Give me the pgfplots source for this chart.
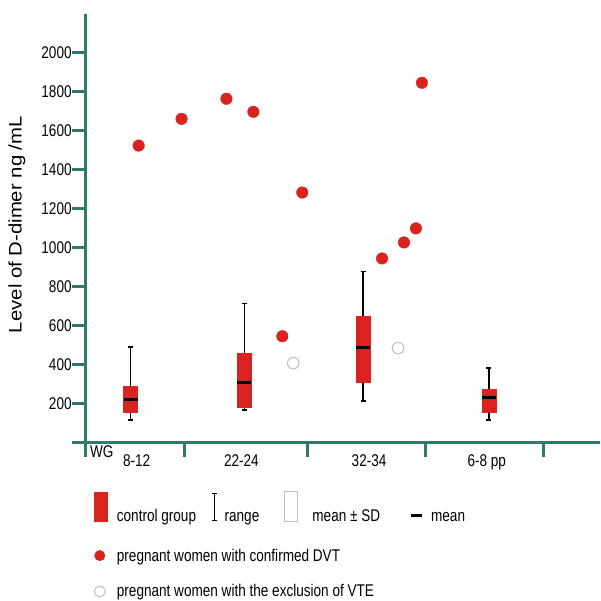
\documentclass[border=0pt]{standalone}
\usepackage{fontspec}
\setmainfont{Liberation Sans}[FakeStretch=0.8]
\newfontfamily\ylabfont{Liberation Sans}[FakeStretch=1.12]
\usepackage{pgfplots}
\pgfplotsset{compat=1.18}
\usepgfplotslibrary{statistics}
\definecolor{axisteal}{RGB}{47,122,108}
\definecolor{boxred}{RGB}{218,35,30}
\definecolor{opengray}{RGB}{190,190,190}

\begin{document}
\begin{tikzpicture}
% fixed page: pixel frame of the reference, origin of the axis at (86,444)
\begin{scope}[x=1pt,y=-1pt,shift={(-86pt,444pt)}]
  \useasboundingbox (0,0) rectangle (601,600);
\end{scope}
\begin{axis}[
  scale only axis, width=515pt, height=430pt,
  xmin=0, xmax=515, ymin=0, ymax=2200,
  clip=false,
  axis lines=left,
  axis line style={-, draw=axisteal, line width=3pt},
  tick align=outside,
  major tick length=14pt,
  tick style={draw=axisteal, line width=3pt},
  ytick={200,400,...,2000},
  scaled y ticks=false,
  /pgf/number format/1000 sep={},
  /pgf/number format/assume math mode=true,
  yticklabel style={anchor=east, inner sep=0pt, font=\fontsize{17}{20}\selectfont},
  xtick={99,222,341,459},
  xticklabels={},
  extra x ticks={51,156,284,402},
  extra x tick labels={8-12,22-24,32-34,6-8 pp},
  extra x tick style={major tick length=0pt,
    xticklabel style={anchor=base, yshift=-24pt, inner sep=0pt, font=\fontsize{17}{20}\selectfont}},
  ylabel={Level of D-dimer ng /mL},
  every axis y label/.style={at={(axis description cs:-0.134,0.509)}, rotate=90, anchor=center,
    font=\ylabfont\fontsize{18.2}{22}\selectfont},
  boxplot/draw direction=y,
  boxplot/box extend=14,
  boxplot/whisker extend=5,
  boxplot/every box/.style={draw=boxred, fill=boxred},
  boxplot/every whisker/.style={black, line width=1.5pt},
  boxplot/every median/.style={black, line width=3pt},
]
% control group: range, mean +- SD, mean
\addplot[boxplot prepared={draw position=45, lower whisker=118, lower quartile=159,
  median=225, upper quartile=292, upper whisker=491}] coordinates {};
\addplot[boxplot prepared={draw position=159, lower whisker=169, lower quartile=184,
  median=312, upper quartile=460, upper whisker=716}] coordinates {};
\addplot[boxplot prepared={draw position=278, lower whisker=215, lower quartile=312,
  median=491, upper quartile=650, upper whisker=880}] coordinates {};
\addplot[boxplot prepared={draw position=404, lower whisker=118, lower quartile=159,
  median=235, upper quartile=276, upper whisker=384}] coordinates {};
% pregnant women with confirmed DVT
\addplot[only marks, mark=*, mark size=5.8pt, color=boxred] coordinates {
  (53,1525) (96,1662) (141,1765) (168,1698) (217,1284) (197,547)
  (297,946) (319,1028) (331,1100) (337,1847)
};
% pregnant women with the exclusion of VTE
\addplot[only marks, mark=o, mark size=5.8pt, color=opengray, line width=1pt] coordinates {
  (208,409) (313,486)
};
% axis stubs beyond the origin
\draw[axisteal, line width=3pt] (axis cs:0,0) -- ++(-14pt,0pt);
\draw[axisteal, line width=3pt] (axis cs:0,0) -- ++(0pt,-14pt);
\end{axis}
% WG label and legend, in pixel coordinates of the reference
\begin{scope}[x=1pt,y=-1pt,shift={(-86pt,444pt)}, font=\fontsize{17}{20}\selectfont]
  \node[inner sep=0pt] at (102,453) {WG};
  \fill[boxred] (94,493) rectangle (108,523);
  \node[anchor=base west, inner sep=0pt] at (117,523) {control group};
  \draw[black, line width=1.2pt] (215,495) -- (215,522)
    (212.5,495) -- (217.5,495) (212.5,522) -- (217.5,522);
  \node[anchor=base west, inner sep=0pt] at (225,523) {range};
  \draw[opengray, line width=1pt] (285,493) rectangle (298,523);
  \node[anchor=base west, inner sep=0pt] at (313,523) {mean ± SD};
  \draw[black, line width=3pt] (412,517) -- (423,517);
  \node[anchor=base west, inner sep=0pt] at (432,523) {mean};
  \fill[boxred] (100,557) circle (5.5);
  \node[anchor=base west, inner sep=0pt] at (117,563) {pregnant women with confirmed DVT};
  \draw[opengray, line width=1pt] (100,593) circle (5.5);
  \node[anchor=base west, inner sep=0pt] at (117,598) {pregnant women with the exclusion of VTE};
\end{scope}
\end{tikzpicture}
\end{document}
